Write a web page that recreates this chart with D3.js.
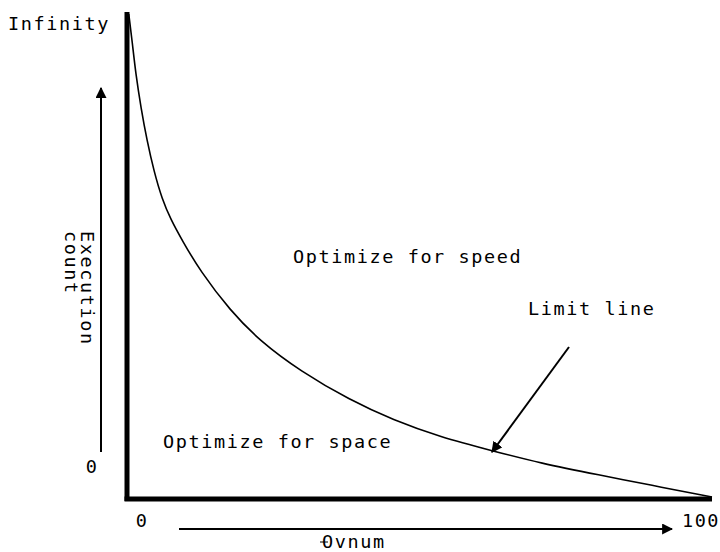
<!DOCTYPE html>
<html>
<head>
<meta charset="utf-8">
<script src="https://cdn.jsdelivr.net/npm/d3@7"></script>
<style>
  html, body { margin: 0; padding: 0; background: #fff; }
  svg text { font-family: "DejaVu Sans Mono", monospace; font-size: 18.5px; letter-spacing: 1.6px; fill: #000; }
</style>
</head>
<body>
<svg id="chart" width="720" height="552"></svg>
<script>
// Limit line: execution count vs. ovnum
const ovnum = [0.3, 0.9, 1.5, 2.4, 3.4, 4.6, 6.0, 7.5, 9.4, 12.5, 17.6, 22.7, 29.6, 38.1, 45.5, 53.5, 62.6, 70.6, 80.9, 89.4, 100];
const execCount = [100, 94.2, 87.6, 80.6, 74.0, 67.6, 61.8, 57.6, 53.4, 47.0, 38.9, 32.6, 26.4, 20.4, 16.3, 12.8, 9.9, 7.4, 4.9, 2.9, 0.4];
const xTickLabels = ["0", "100"];
const yTickLabels = ["0", "Infinity"];
const regionLabels = ["Optimize for speed", "Optimize for space"];
const curveLabel = "Limit line";
const yTitle = ["Execution", "count"];
const xTitle = "Ovnum";

const svg = d3.select("#chart");
const x = d3.scaleLinear().domain([0, 100]).range([127, 712]);
const y = d3.scaleLinear().domain([0, 100]).range([499, 14]);

const defs = svg.append("defs");
defs.append("marker").attr("id", "head")
  .attr("viewBox", "0 0 10 10").attr("refX", 9).attr("refY", 5)
  .attr("markerWidth", 11).attr("markerHeight", 11).attr("orient", "auto")
  .attr("markerUnits", "userSpaceOnUse")
  .append("path").attr("d", "M0,0 L10,5 L0,10 Z").attr("fill", "#000");

// Axes drawn as heavy frame lines
svg.append("line").attr("x1", x(0)).attr("x2", x(0)).attr("y1", 12).attr("y2", 501)
  .attr("stroke", "#000").attr("stroke-width", 5);
svg.append("line").attr("x1", x(0) - 2.5).attr("x2", x(100)).attr("y1", 499).attr("y2", 499)
  .attr("stroke", "#000").attr("stroke-width", 5);

// Tick labels
svg.append("text").attr("x", 142).attr("y", 527).attr("text-anchor", "middle").text(xTickLabels[0]);
svg.append("text").attr("x", 701).attr("y", 527).attr("text-anchor", "middle").text(xTickLabels[1]);
svg.append("text").attr("x", 92).attr("y", 473).attr("text-anchor", "middle").text(yTickLabels[0]);
svg.append("text").attr("x", 8).attr("y", 30).text(yTickLabels[1]);

// Limit curve (smoothed B-spline through the sampled points)
const line = d3.line().x((d, i) => x(ovnum[i])).y(d => y(d)).curve(d3.curveBasis);
svg.append("path").datum(execCount).attr("d", line)
  .attr("fill", "none").attr("stroke", "#000").attr("stroke-width", 1.6);

// Region labels
svg.append("text").attr("x", 293).attr("y", 263).text(regionLabels[0]);
svg.append("text").attr("x", 163).attr("y", 448).text(regionLabels[1]);
svg.append("text").attr("x", 528).attr("y", 315).text(curveLabel);

// Pointer to the curve
svg.append("line").attr("x1", 569).attr("y1", 347).attr("x2", 492).attr("y2", 452)
  .attr("stroke", "#000").attr("stroke-width", 2).attr("marker-end", "url(#head)");

// Direction arrows for axis titles
svg.append("line").attr("x1", 101).attr("x2", 101).attr("y1", 452).attr("y2", 88)
  .attr("stroke", "#000").attr("stroke-width", 2).attr("marker-end", "url(#head)");
svg.append("line").attr("x1", 179).attr("x2", 672).attr("y1", 529).attr("y2", 529)
  .attr("stroke", "#000").attr("stroke-width", 2).attr("marker-end", "url(#head)");

// Rotated y title, reading top to bottom
const yt = svg.append("g").attr("transform", "translate(81,231) rotate(90)");
yt.append("text").attr("x", 0).attr("y", 0).text(yTitle[0]);
yt.append("text").attr("x", 0).attr("y", 16).text(yTitle[1]);

// X title
svg.append("text").attr("x", 322).attr("y", 548).text(xTitle);
svg.append("line").attr("x1", 320).attr("x2", 328).attr("y1", 542).attr("y2", 542)
  .attr("stroke", "#000").attr("stroke-width", 1);
</script>
</body>
</html>
